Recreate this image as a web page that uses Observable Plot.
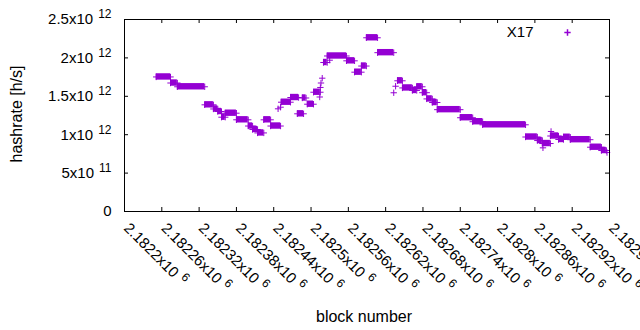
<!DOCTYPE html>
<html><head><meta charset="utf-8">
<script src="https://cdn.jsdelivr.net/npm/d3@7"></script>
<script src="https://cdn.jsdelivr.net/npm/@observablehq/plot@0.6"></script>
<style>
html,body{margin:0;padding:0;background:#fff;overflow:hidden;}
</style></head><body><div id="chart"></div>
<script>
// Runs of blocks with the same estimated hashrate (first block, last block, value)
const segStart = [2182251,2182274,2182285,2182329,2182343,2182350,2182356,2182362,2182380,2182399,2182406,2182414,2182424,2182435,2182447,2182451,2182452,2182467,2182478,2182486,2182494,2182504,2182514,2182515,2182516,2182518,2182520,2182530,2182526,2182557,2182570,2182581,2182589,2182607,2182633,2182636,2182639,2182647,2182663,2182670,2182679,2182686,2182695,2182703,2182740,2182760,2182776,2182845,2182864,2182873,2182872,2182886,2182885,2182898,2182906,2182917,2182949,2182967,2182976];
const segEnd   = [2182274,2182285,2182329,2182343,2182350,2182356,2182362,2182380,2182399,2182406,2182414,2182424,2182435,2182451,2182447,2182451,2182467,2182480,2182488,2182492,2182504,2182515,2182514,2182515,2182516,2182518,2182526,2182530,2182557,2182570,2182581,2182589,2182607,2182633,2182633,2182636,2182647,2182663,2182670,2182679,2182686,2182695,2182703,2182740,2182760,2182776,2182845,2182864,2182872,2182873,2182885,2182886,2182898,2182906,2182917,2182949,2182967,2182975,2182976];
const segValue = [1.752e12,1.673e12,1.624e12,1.389e12,1.335e12,1.302e12,1.228e12,1.280e12,1.194e12,1.113e12,1.068e12,1.023e12,1.194e12,1.113e12,1.337e12,1.358e12,1.423e12,1.484e12,1.272e12,1.478e12,1.397e12,1.553e12,1.491e12,1.615e12,1.673e12,1.736e12,1.940e12,1.970e12,2.025e12,1.962e12,1.814e12,1.894e12,2.262e12,2.068e12,1.546e12,1.631e12,1.702e12,1.609e12,1.576e12,1.624e12,1.547e12,1.466e12,1.419e12,1.326e12,1.221e12,1.169e12,1.129e12,0.970e12,0.924e12,0.829e12,0.885e12,1.042e12,0.983e12,0.9375e12,0.967e12,0.935e12,0.837e12,0.794e12,0.768e12];
const seriesName = "X17";

const xTicks = [2182200,2182260,2182320,2182380,2182440,2182500,2182560,2182620,2182680,2182740,2182800,2182860,2182920,2182980];
const xTickLabels = ["2.1822x10^6","2.18226x10^6","2.18232x10^6","2.18238x10^6","2.18244x10^6","2.1825x10^6","2.18256x10^6","2.18262x10^6","2.18268x10^6","2.18274x10^6","2.1828x10^6","2.18286x10^6","2.18292x10^6","2.18298x10^6"];
const yTicks = [0,5e11,1e12,1.5e12,2e12,2.5e12];
const yTickLabels = ["0","5x10^11","1x10^12","1.5x10^12","2x10^12","2.5x10^12"];
const xTitle = "block number";
const yTitle = "hashrate [h/s]";

const W = 640, H = 330, mL = 124, mR = 31, mT = 19, mB = 119;
const fw = W - mL - mR, fh = H - mT - mB;
const purple = "#9400d3";
const tickLen = 4;

const segs = segStart.map((s, i) => ({s, e: segEnd[i], v: segValue[i]}));
const ends = segs.flatMap(d => d.s === d.e ? [{b: d.s, v: d.v}] : [{b: d.s, v: d.v}, {b: d.e, v: d.v}]);

const svg = Plot.plot({
  width: W, height: H,
  marginLeft: mL, marginRight: mR, marginTop: mT, marginBottom: mB,
  style: {fontFamily: "'Liberation Sans', Arial, sans-serif", fontSize: "15px", background: "white", color: "black", overflow: "visible"},
  x: {domain: [2182200, 2182980], axis: null},
  y: {domain: [0, 2.5e12], axis: null},
  marks: [
    // data
    Plot.rect(segs, {x1: "s", x2: "e", y1: "v", y2: "v", fill: purple, insetTop: -3.2, insetBottom: -3.2}),
    Plot.dot(ends, {x: "b", y: "v", symbol: "plus", r: 2.2, stroke: purple, fill: "none", strokeWidth: 1}),
    // ticks (inward, mirrored)
    Plot.tickY(yTicks, {y: d => d, stroke: "black", insetRight: fw - tickLen}),
    Plot.tickY(yTicks, {y: d => d, stroke: "black", insetLeft: fw - tickLen}),
    Plot.tickX(xTicks, {x: d => d, stroke: "black", insetTop: fh - tickLen}),
    Plot.tickX(xTicks, {x: d => d, stroke: "black", insetBottom: fh - tickLen}),
    Plot.frame({stroke: "black"}),
    // tick labels
    Plot.text(yTicks, {y: d => d, text: (d, i) => yTickLabels[i], frameAnchor: "left", textAnchor: "end", lineAnchor: "middle", dx: -13, fontSize: 15, fill: "black"}),
    Plot.text(xTicks, {x: d => d, text: (d, i) => xTickLabels[i], frameAnchor: "bottom", rotate: 45, textAnchor: "start", lineAnchor: "middle", dx: 2, dy: 14, fontSize: 15, fill: "black"}),
    // titles
    Plot.text([yTitle], {text: d => d, frameAnchor: "left", rotate: -90, textAnchor: "middle", lineAnchor: "middle", dx: -108, dy: -1.5, fontSize: 16, fill: "black"}),
    Plot.text([xTitle], {text: d => d, frameAnchor: "bottom", textAnchor: "middle", lineAnchor: "middle", dx: -3, dy: 105.5, fontSize: 16, fill: "black"}),
    // legend
    Plot.text([seriesName], {text: d => d, frameAnchor: "top-right", textAnchor: "end", lineAnchor: "middle", dx: -76, dy: 12.5, fontSize: 15, fill: "black"}),
    Plot.dot([seriesName], {frameAnchor: "top-right", dx: -42, dy: 13, symbol: "plus", r: 2.2, stroke: purple, fill: "none"})
  ]
});

// superscript exponents, as gnuplot's enhanced text does
d3.select(svg).selectAll("text").each(function() {
  const t = this.textContent;
  if (t.includes("^")) {
    const [m, e] = t.split("^");
    const s = d3.select(this);
    s.text(m);
    s.append("tspan").attr("dx", 5).attr("dy", -6).attr("font-size", 12).text(e);
  }
});

document.getElementById("chart").appendChild(svg);
</script>
</body></html>
